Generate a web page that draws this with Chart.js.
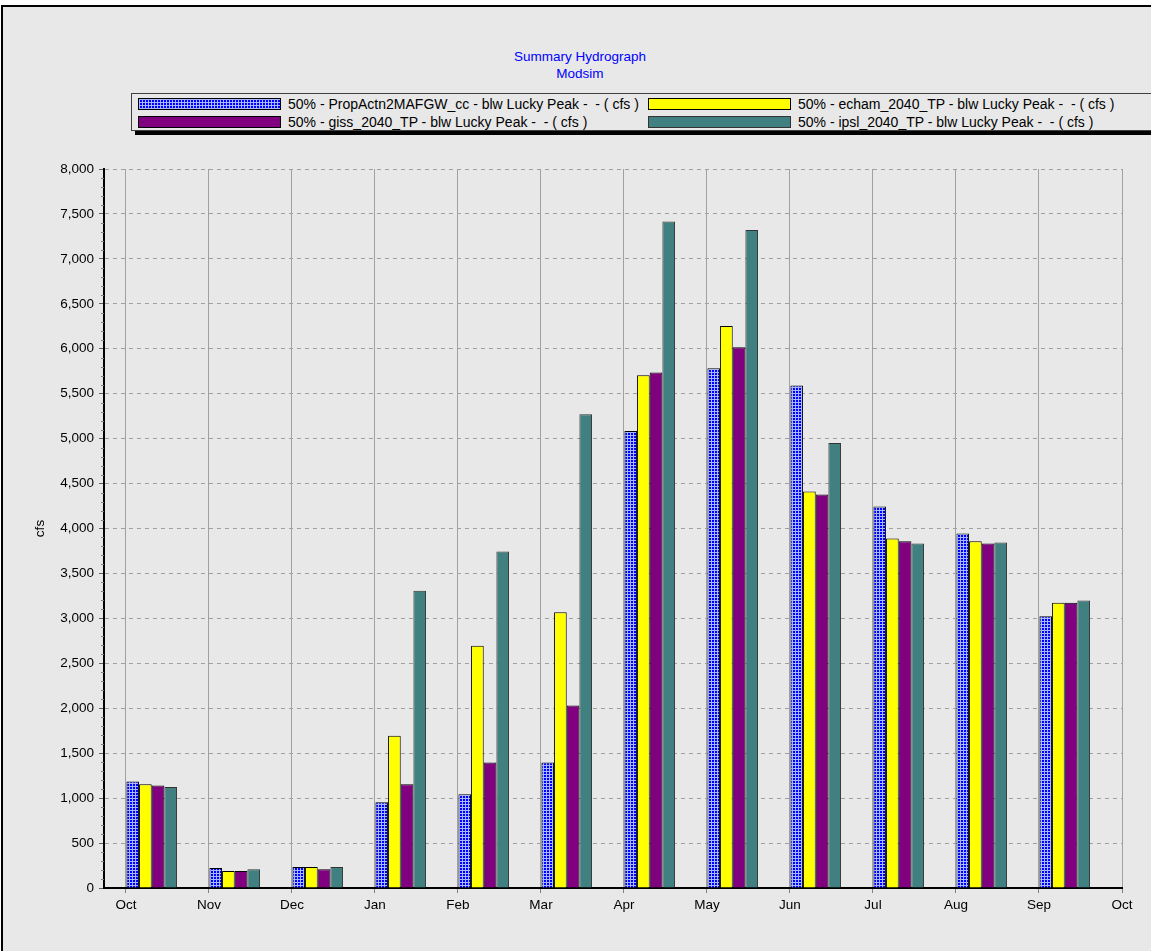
<!DOCTYPE html>
<html>
<head>
<meta charset="utf-8">
<script src="https://cdn.jsdelivr.net/npm/chart.js@4"></script>
<style>
  body { margin: 0; background: #fff; width: 1151px; height: 951px; overflow: hidden; position: relative;
         font-family: "Liberation Sans", Arial, sans-serif; }
  #frame { position: absolute; left: 1px; top: 5px; width: 1200px; height: 1000px; background: #e8e8e8;
           border-left: 2px solid #000; border-top: 2px solid #000; }
  #title { position: absolute; left: 480px; top: 48px; width: 200px; text-align: center; color: #0000ff;
           font-size: 13.5px; line-height: 17px; }
  #legend { position: absolute; left: 131px; top: 93px; width: 1040px; height: 38px; box-sizing: border-box;
            border: 1px solid #404040; background: #e8e8e8; box-shadow: 4px 4px 0 #000; }
  .sw { position: absolute; width: 143px; height: 12px; box-sizing: border-box; border: 1px solid #000; }
  .lbl { position: absolute; font-size: 14px; line-height: 14px; white-space: pre; color: #000; }
  .hatch { background-color: #0000ff;
           background-image: linear-gradient(90deg, #a8b8ff 1px, transparent 1px), linear-gradient(#a8b8ff 1px, transparent 1px);
           background-size: 3px 3px; }
  canvas { position: absolute; left: 0; top: 0; }
</style>
</head>
<body>
<div id="frame"></div>
<div id="title">Summary Hydrograph<br>Modsim</div>
<div id="legend"></div>
<div id="legendItems"></div>
<canvas id="chart" width="1151" height="951"></canvas>
<script>
// months of the water year, bars sit inside each month
const months = ["Oct", "Nov", "Dec", "Jan", "Feb", "Mar", "Apr", "May", "Jun", "Jul", "Aug", "Sep"];
const tickLabels = ["Oct", "Nov", "Dec", "Jan", "Feb", "Mar", "Apr", "May", "Jun", "Jul", "Aug", "Sep", "Oct"];
const yTicks = [0, 500, 1000, 1500, 2000, 2500, 3000, 3500, 4000, 4500, 5000, 5500, 6000, 6500, 7000, 7500, 8000];

const propActn = [1184, 223, 234, 955, 1044, 1396, 5084, 5783, 5590, 4245, 3944, 3023];
const echam = [1155, 190, 234, 1694, 2696, 3068, 5705, 6254, 4412, 3889, 3859, 3175];
const giss = [1140, 190, 208, 1155, 1396, 2031, 5735, 6017, 4379, 3859, 3833, 3175];
const ipsl = [1125, 208, 234, 3306, 3744, 5270, 7417, 7320, 4951, 3833, 3844, 3198];

const seriesNames = [
  "50% - PropActn2MAFGW_cc - blw Lucky Peak -  - ( cfs )",
  "50% - echam_2040_TP - blw Lucky Peak -  - ( cfs )",
  "50% - giss_2040_TP - blw Lucky Peak -  - ( cfs )",
  "50% - ipsl_2040_TP - blw Lucky Peak -  - ( cfs )",
];

const font = { family: "'Liberation Sans', Arial, sans-serif", size: 13.5 };
const groupOffset = 0.31; // bars are drawn a bit into each month

function hatchPattern() {
  const c = document.createElement("canvas");
  c.width = 3; c.height = 3;
  const g = c.getContext("2d");
  g.fillStyle = "#0000ff";
  g.fillRect(0, 0, 3, 3);
  g.fillStyle = "#a8b8ff";
  g.fillRect(0, 0, 3, 1);
  g.fillRect(0, 0, 1, 3);
  return g.createPattern(c, "repeat");
}

function points(values) {
  return values.map((v, i) => ({ x: i + groupOffset, y: v }));
}

// legend, two columns
const legendItems = [
  { cls: "hatch", color: null, border: "#000", left: 138, top: 98 },
  { cls: "", color: "#ffff00", border: "#000", left: 648, top: 98 },
  { cls: "", color: "#800080", border: "#000", left: 138, top: 116 },
  { cls: "", color: "#408080", border: "#333", left: 648, top: 116 },
];
const legendEl = document.getElementById("legendItems");
legendItems.forEach((it, i) => {
  const sw = document.createElement("div");
  sw.className = "sw " + it.cls;
  sw.style.left = it.left + "px";
  sw.style.top = it.top + "px";
  sw.style.borderColor = it.border;
  if (it.color) sw.style.background = it.color;
  legendEl.appendChild(sw);
  const lb = document.createElement("div");
  lb.className = "lbl";
  lb.style.left = (it.left + 150) + "px";
  lb.style.top = (it.top - 1) + "px";
  lb.textContent = seriesNames[i];
  legendEl.appendChild(lb);
});

// small minor ticks on the value axis
const minorTicks = {
  id: "minorTicks",
  afterDraw(chart) {
    const y = chart.scales.y;
    const ctx = chart.ctx;
    ctx.save();
    ctx.strokeStyle = "#808080";
    ctx.lineWidth = 1;
    for (let v = 100; v < 8000; v += 100) {
      if (v % 500 === 0) continue;
      const py = Math.round(y.getPixelForValue(v)) + 0.5;
      ctx.beginPath();
      ctx.moveTo(y.right - 3, py);
      ctx.lineTo(y.right, py);
      ctx.stroke();
    }
    ctx.restore();
  },
};

new Chart(document.getElementById("chart"), {
  type: "bar",
  data: {
    datasets: [
      { label: seriesNames[0], data: points(propActn), backgroundColor: hatchPattern(), borderColor: "#000", borderWidth: 1 },
      { label: seriesNames[1], data: points(echam), backgroundColor: "#ffff00", borderColor: "#000", borderWidth: 1 },
      { label: seriesNames[2], data: points(giss), backgroundColor: "#800080", borderColor: "#000", borderWidth: 1 },
      { label: seriesNames[3], data: points(ipsl), backgroundColor: "#408080", borderColor: "#333", borderWidth: 1 },
    ],
  },
  options: {
    responsive: false,
    animation: false,
    layout: { padding: { left: 28, top: 169, right: 29, bottom: 23 } },
    datasets: { bar: { categoryPercentage: 0.61, barPercentage: 1 } },
    plugins: { legend: { display: false }, tooltip: { enabled: false } },
    scales: {
      x: {
        type: "linear",
        min: -0.265,
        max: 12,
        offset: false,
        afterBuildTicks: (s) => { s.ticks = tickLabels.map((_, i) => ({ value: i })); },
        afterFit: (s) => { s.height = 40; },
        ticks: {
          callback: (v) => tickLabels[v],
          font: font,
          color: "#000",
          padding: 4,
          autoSkip: false,
          maxRotation: 0,
        },
        grid: { offset: false, color: "#a0a0a0", lineWidth: 1, tickLength: 5, tickColor: "#808080" },
        border: { color: "#000", width: 2 },
      },
      y: {
        min: 0,
        max: 8000,
        afterBuildTicks: (s) => { s.ticks = yTicks.map((v) => ({ value: v })); },
        afterFit: (s) => { s.width = 76; },
        ticks: {
          callback: (v) => v.toLocaleString("en-US"),
          font: font,
          color: "#000",
          padding: 5,
        },
        title: { display: true, text: "cfs", font: font, color: "#000", padding: { top: 4, bottom: 4 } },
        grid: { color: "#a0a0a0", lineWidth: 1, tickLength: 5, tickColor: "#606060" },
        border: { color: "#000", width: 2, dash: [4, 4] },
      },
    },
  },
  plugins: [minorTicks],
});
</script>
</body>
</html>
